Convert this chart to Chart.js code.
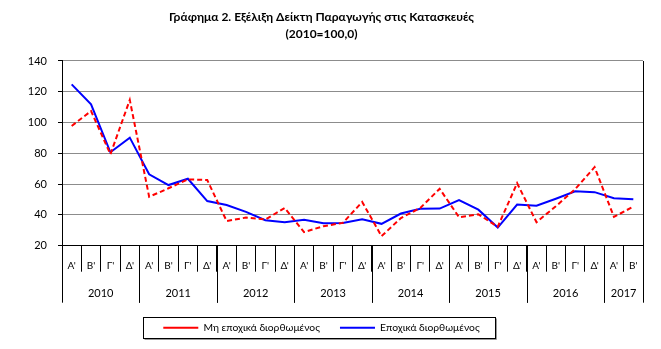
<!DOCTYPE html>
<html>
<head>
<meta charset="utf-8">
<script src="https://cdn.jsdelivr.net/npm/chart.js@4"></script>
<style>
  body { margin: 0; background: #fff; }
</style>
</head>
<body>
<canvas id="myChart" width="661" height="349"></canvas>
<script>
var years = ['2010', '2011', '2012', '2013', '2014', '2015', '2016', '2017'];
var quartersPerYear = [4, 4, 4, 4, 4, 4, 4, 2];
var quarterNames = ["Α'", "Β'", "Γ'", "Δ'"];

// Μη εποχικά διορθωμένος
var nonAdjusted = [97.8, 107.5, 79.4, 114.7, 51.8, 57.3, 63.1, 62.7, 36.0, 38.3,
  37.0, 44.5, 28.8, 32.7, 34.8, 48.4, 26.2, 38.0, 44.5, 57.0,
  38.5, 40.4, 32.3, 60.6, 35.3, 45.6, 56.8, 71.0, 38.7, 45.4];
// Εποχικά διορθωμένος
var adjusted = [124.8, 111.8, 80.7, 90.2, 66.4, 59.4, 63.5, 49.0, 46.4, 42.0,
  36.6, 35.3, 36.8, 34.6, 34.8, 37.2, 34.2, 40.9, 44.0, 44.1,
  49.7, 43.4, 31.8, 46.7, 46.0, 50.5, 55.3, 54.8, 50.8, 50.1];

var yMin = 20, yMax = 140, yStep = 20;

var labels = [];
years.forEach(function(y, i) {
  for (var q = 0; q < quartersPerYear[i]; q++) labels.push(quarterNames[q]);
});

Chart.defaults.font.family = 'Lato';
Chart.defaults.color = '#000';

function px(v) { return Math.round(v) + 0.5 }

// year row under the quarters, right border and legend frame
var framePlugin = {
  id: 'frame',
  afterDraw: function(chart) {
    var ctx = chart.ctx, x = chart.scales.x, area = chart.chartArea;
    ctx.save();
    ctx.strokeStyle = '#000';
    ctx.lineWidth = 1;
    ctx.beginPath();
    ctx.moveTo(px(area.right), area.top);
    ctx.lineTo(px(area.right), area.bottom);
    ctx.stroke();

    ctx.font = '11px Lato';
    ctx.fillStyle = '#000';
    ctx.textAlign = 'center';
    ctx.textBaseline = 'middle';
    var start = 0;
    years.forEach(function(year, i) {
      var end = start + quartersPerYear[i];
      var l = x.getPixelForValue(start - 0.5), r = x.getPixelForValue(end - 0.5);
      ctx.beginPath();
      ctx.moveTo(px(l), area.bottom);
      ctx.lineTo(px(l), x.bottom);
      ctx.moveTo(px(r), area.bottom);
      ctx.lineTo(px(r), x.bottom);
      ctx.stroke();
      ctx.fillText(year, (l + r) / 2, area.bottom + 48);
      start = end;
    });

    var boxes = chart.legend.legendHitBoxes;
    if (boxes && boxes.length) {
      var first = boxes[0], last = boxes[boxes.length - 1];
      var bl = px(first.left - 20), br = px(last.left + last.width + 15);
      var bt = px(first.top - 6), bb = px(first.top + first.height + 5);
      ctx.fillStyle = '#999';
      ctx.fillRect(bl + 1, bb, br - bl, 1.5);
      ctx.fillRect(br, bt + 1, 1.5, bb - bt);
      ctx.strokeRect(bl, bt, br - bl, bb - bt);
    }
    ctx.restore();
  }
};

var ctx = document.getElementById('myChart').getContext('2d');
var chart = new Chart(ctx, {
  type: 'line',
  data: {
    labels: labels,
    datasets: [{
      label: 'Μη εποχικά διορθωμένος',
      data: nonAdjusted,
      borderColor: '#ff0000',
      backgroundColor: '#ff0000',
      borderWidth: 2,
      borderDash: [5, 3],
      pointRadius: 0,
      tension: 0
    },
    {
      label: 'Εποχικά διορθωμένος',
      data: adjusted,
      borderColor: '#0000ff',
      backgroundColor: '#0000ff',
      borderWidth: 2,
      pointRadius: 0,
      tension: 0
    }]
  },
  options: {
    responsive: false,
    animation: false,
    layout: { padding: { left: 0, right: 18, top: 0, bottom: 6 } },
    plugins: {
      title: {
        display: true,
        text: ['Γράφημα 2. Εξέλιξη Δείκτη Παραγωγής στις Κατασκευές', '(2010=100,0)'],
        font: { size: 12, weight: 'bold', lineHeight: 1.4 },
        color: '#000',
        padding: { top: 9, bottom: 18.4 }
      },
      legend: {
        position: 'bottom',
        labels: {
          usePointStyle: true,
          pointStyle: 'line',
          pointStyleWidth: 35,
          padding: 20,
          font: { size: 10.3 },
          color: '#000'
        }
      },
      tooltip: { enabled: false }
    },
    scales: {
      x: {
        offset: true,
        grid: { offset: true, drawOnChartArea: false, color: '#000', tickLength: 26 },
        border: { color: '#000' },
        ticks: { padding: -12, font: { size: 10 }, color: '#000', maxRotation: 0, autoSkip: false },
        afterFit: function(scale) { scale.height = 57 }
      },
      y: {
        min: yMin,
        max: yMax,
        ticks: { stepSize: yStep, padding: 11, font: { size: 11 }, color: '#000' },
        grid: { color: '#8c8c8c', tickColor: '#000', tickLength: 4 },
        border: { color: '#000' },
        afterFit: function(scale) { scale.width = 62 }
      }
    }
  },
  plugins: [framePlugin]
});
</script>
</body>
</html>
